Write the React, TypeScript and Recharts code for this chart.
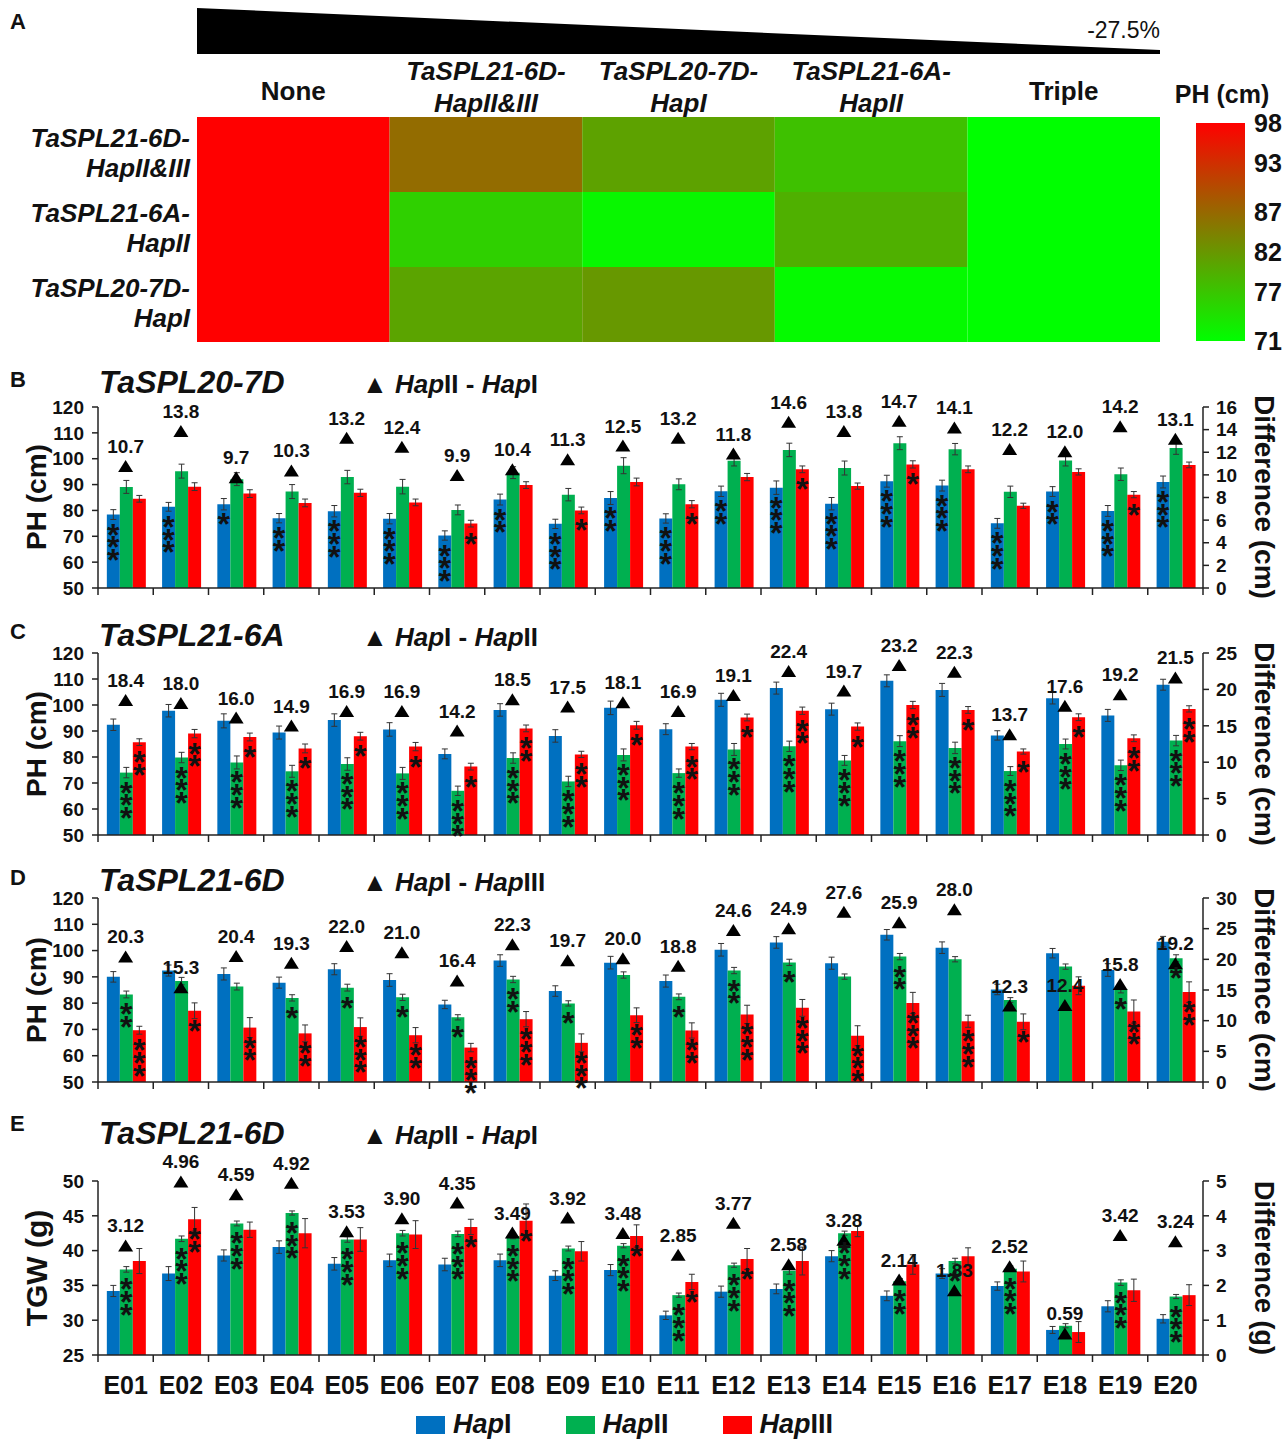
import React from "react";
import {
  BarChart,
  ComposedChart,
  Bar,
  Scatter,
  XAxis,
  YAxis,
  ErrorBar,
  LabelList,
  Cell,
  Legend,
} from "recharts";

const FONT = "'Liberation Sans', Arial, Helvetica, sans-serif";
const BLUE = "#0070C0";
const GREEN = "#00B050";
const RED = "#FF0000";
const INK = "#111";

// ---- panel A: heat map of plant height (cm) ----
const hmRows = ["TaSPL21-6D-|HapII&III", "TaSPL21-6A-|HapII", "TaSPL20-7D-|HapI"];
const hmCols = ["None", "TaSPL21-6D-|HapII&III", "TaSPL20-7D-|HapI", "TaSPL21-6A-|HapII", "Triple"];
const phRow1 = [98, 86.6, 80.8, 77.6, 71];
const phRow2 = [98, 76.0, 71.8, 79.4, 71];
const phRow3 = [98, 80.6, 81.9, 71.5, 71];
const phGrid = [phRow1, phRow2, phRow3];
const phRange = [71, 98];
const phTicks = [71, 77, 82, 87, 93, 98];

// ---- environments ----
const envs = ["E01", "E02", "E03", "E04", "E05", "E06", "E07", "E08", "E09", "E10",
  "E11", "E12", "E13", "E14", "E15", "E16", "E17", "E18", "E19", "E20"];

// ---- B: TaSPL20-7D, PH ----
const bHapI = [78.4, 81.4, 82.4, 77.0, 79.7, 76.8, 70.3, 84.2, 74.8, 84.8, 76.9, 87.4, 88.8, 82.6, 91.3, 89.6, 75.0, 87.3, 79.8, 91.0];
const bHapII = [89.1, 95.2, 92.1, 87.3, 92.9, 89.2, 80.2, 94.6, 86.1, 97.3, 90.1, 99.2, 103.4, 96.4, 106.0, 103.7, 87.2, 99.3, 94.0, 104.1];
const bHapIII = [84.5, 89.2, 86.5, 82.9, 86.8, 83.1, 74.9, 89.8, 80.0, 91.0, 82.4, 92.9, 95.9, 89.4, 97.8, 95.9, 81.8, 94.9, 86.1, 97.6];
const bErrI = [1.9, 1.7, 2.2, 1.8, 2.2, 2.0, 1.8, 2.1, 1.8, 2.5, 1.8, 2.0, 2.6, 2.4, 2.3, 2.1, 1.9, 1.9, 2.1, 2.3];
const bErrII = [2.5, 2.7, 2.5, 2.7, 2.6, 2.8, 1.9, 2.3, 2.4, 3.1, 2.1, 2.0, 2.6, 2.7, 2.5, 2.2, 2.2, 2.1, 2.4, 2.4];
const bErrIII = [1.3, 1.5, 1.5, 1.5, 1.4, 1.3, 1.3, 1.3, 1.3, 1.5, 1.4, 1.4, 1.3, 1.2, 1.4, 1.3, 1.0, 1.2, 1.2, 1.1];
const bStarI = [3, 3, 1, 2, 3, 3, 3, 2, 3, 2, 3, 2, 3, 3, 3, 3, 3, 2, 3, 3];
const bStarII = [0, 0, 0, 0, 0, 0, 0, 0, 0, 0, 0, 0, 0, 0, 0, 0, 0, 0, 0, 0];
const bStarIII = [0, 0, 0, 0, 0, 0, 1, 0, 1, 0, 1, 0, 1, 0, 1, 0, 0, 0, 1, 0];
const bDiff = [10.7, 13.8, 9.7, 10.3, 13.2, 12.4, 9.9, 10.4, 11.3, 12.5, 13.2, 11.8, 14.6, 13.8, 14.7, 14.1, 12.2, 12.0, 14.2, 13.1];

// ---- C: TaSPL21-6A, PH ----
const cHapI = [92.4, 97.8, 93.9, 89.4, 94.2, 90.6, 81.2, 98.1, 88.1, 98.9, 90.7, 102.0, 106.5, 98.4, 109.3, 105.8, 88.3, 102.6, 96.0, 107.8];
const cHapII = [74.0, 79.8, 77.9, 74.5, 77.3, 73.7, 67.0, 79.6, 70.6, 80.8, 73.8, 82.9, 84.1, 78.7, 86.1, 83.5, 74.6, 85.0, 76.8, 86.3];
const cHapIII = [85.7, 89.0, 87.7, 83.3, 88.0, 84.0, 76.3, 91.0, 81.0, 92.2, 84.0, 95.2, 97.8, 91.7, 100.0, 98.1, 82.1, 95.3, 87.2, 98.5];
const cErrI = [2.2, 2.4, 2.7, 2.5, 2.4, 2.6, 1.9, 2.4, 2.4, 2.6, 2.1, 2.5, 2.3, 2.3, 2.3, 2.5, 1.8, 2.2, 2.3, 2.1];
const cErrII = [2.0, 2.0, 2.5, 2.3, 2.4, 2.3, 1.8, 2.0, 2.0, 2.3, 1.6, 2.3, 2.0, 1.9, 2.1, 2.2, 1.7, 1.9, 2.0, 2.0];
const cErrIII = [1.3, 1.6, 1.5, 1.7, 1.5, 1.6, 1.3, 1.3, 1.2, 1.5, 1.2, 1.3, 1.4, 1.4, 1.4, 1.3, 1.0, 1.3, 1.3, 1.2];
const cStarI = [0, 0, 0, 0, 0, 0, 0, 0, 0, 0, 0, 0, 0, 0, 0, 0, 0, 0, 0, 0];
const cStarII = [3, 3, 3, 3, 3, 3, 3, 3, 3, 3, 3, 3, 3, 3, 3, 3, 3, 3, 3, 3];
const cStarIII = [2, 2, 1, 1, 1, 1, 1, 2, 2, 1, 2, 1, 2, 1, 2, 1, 1, 1, 2, 2];
const cDiff = [18.4, 18.0, 16.0, 14.9, 16.9, 16.9, 14.2, 18.5, 17.5, 18.1, 16.9, 19.1, 22.4, 19.7, 23.2, 22.3, 13.7, 17.6, 19.2, 21.5];

// ---- D: TaSPL21-6D, PH ----
const dHapI = [90.0, 92.4, 91.1, 87.8, 92.9, 88.8, 79.5, 96.2, 84.6, 95.4, 88.4, 100.3, 103.1, 95.2, 106.0, 101.1, 85.2, 99.0, 92.6, 103.4];
const dHapII = [83.3, 88.4, 86.3, 82.0, 85.9, 82.2, 74.6, 89.0, 79.9, 90.7, 82.4, 92.4, 95.5, 90.1, 97.7, 96.7, 81.2, 93.9, 85.4, 97.1];
const dHapIII = [69.7, 77.1, 70.7, 68.5, 70.9, 67.8, 63.1, 73.9, 64.9, 75.4, 69.6, 75.7, 78.2, 67.6, 80.1, 73.1, 72.9, 86.6, 76.8, 84.2];
const dErrI = [2.0, 2.1, 2.3, 2.1, 2.1, 2.4, 1.6, 2.2, 2.0, 2.4, 2.3, 2.4, 2.2, 2.3, 2.0, 2.2, 2.0, 1.8, 2.4, 2.0];
const dErrII = [1.3, 1.4, 1.3, 1.2, 1.3, 1.2, 1.0, 1.2, 1.0, 1.2, 1.1, 1.2, 1.2, 1.0, 1.2, 1.0, 0.9, 1.0, 1.5, 1.3];
const dErrIII = [1.5, 3.0, 3.8, 3.2, 3.5, 2.9, 1.6, 2.9, 3.4, 2.8, 2.9, 3.5, 3.2, 3.8, 4.0, 2.3, 3.0, 3.4, 4.4, 3.9];
const dStarI = [0, 0, 0, 0, 0, 0, 0, 0, 0, 0, 0, 0, 0, 0, 0, 0, 0, 0, 0, 0];
const dStarII = [2, 0, 0, 1, 1, 1, 1, 2, 1, 0, 1, 2, 1, 0, 2, 0, 0, 0, 1, 1];
const dStarIII = [3, 1, 2, 2, 3, 2, 3, 3, 3, 2, 2, 3, 3, 3, 3, 3, 1, 0, 2, 2];
const dDiff = [20.3, 15.3, 20.4, 19.3, 22.0, 21.0, 16.4, 22.3, 19.7, 20.0, 18.8, 24.6, 24.9, 27.6, 25.9, 28.0, 12.3, 12.4, 15.8, 19.2];

// ---- E: TaSPL21-6D, TGW ----
const eHapI = [34.2, 36.7, 39.3, 40.5, 38.1, 38.6, 38.0, 38.6, 36.4, 37.2, 30.7, 34.1, 34.5, 39.2, 33.5, 36.7, 34.9, 28.6, 32.0, 30.2];
const eHapII = [37.3, 41.7, 43.9, 45.4, 41.6, 42.5, 42.4, 42.1, 40.3, 40.7, 33.6, 37.9, 37.1, 42.5, 35.6, 38.5, 37.4, 29.2, 35.4, 33.4];
const eHapIII = [38.5, 44.5, 43.0, 42.5, 41.6, 42.3, 43.4, 44.3, 39.9, 42.1, 35.5, 38.8, 38.5, 42.8, 38.0, 39.2, 37.0, 28.3, 34.3, 33.6];
const eErrI = [0.8, 1.0, 0.8, 0.9, 0.9, 0.9, 0.9, 0.9, 0.7, 0.8, 0.6, 0.8, 0.7, 0.8, 0.7, 0.7, 0.6, 0.5, 0.8, 0.6];
const eErrII = [0.4, 0.4, 0.35, 0.3, 0.4, 0.4, 0.4, 0.4, 0.35, 0.3, 0.3, 0.3, 0.5, 0.3, 0.4, 0.4, 0.4, 0.3, 0.4, 0.3];
const eErrIII = [1.8, 1.7, 1.1, 2.1, 1.7, 2.0, 1.1, 2.4, 1.4, 1.6, 1.1, 1.5, 2.0, 0.8, 1.4, 1.2, 1.5, 1.5, 1.6, 1.5];
const eStarI = [0, 0, 0, 0, 0, 0, 0, 0, 0, 0, 0, 0, 0, 0, 0, 0, 0, 0, 0, 0];
const eStarII = [3, 3, 3, 3, 3, 3, 3, 3, 3, 3, 3, 3, 3, 3, 2, 1, 3, 0, 3, 3];
const eStarIII = [0, 2, 0, 0, 0, 0, 1, 1, 0, 1, 1, 1, 0, 0, 0, 0, 0, 0, 0, 0];
const eDiff = [3.12, 4.96, 4.59, 4.92, 3.53, 3.90, 4.35, 3.49, 3.92, 3.48, 2.85, 3.77, 2.58, 3.28, 2.14, 1.83, 2.52, 0.59, 3.42, 3.24];

const phAxisTicks = [50, 60, 70, 80, 90, 100, 110, 120];
const tgwAxisTicks = [25, 30, 35, 40, 45, 50];

function buildRows(hI, hII, hIII, eI, eII, eIII, sI, sII, sIII, diff) {
  return envs.map((env, k) => ({
    env,
    i: hI[k], ii: hII[k], iii: hIII[k],
    ei: eI[k], eii: eII[k], eiii: eIII[k],
    si: sI[k], sii: sII[k], siii: sIII[k],
    diff: diff[k],
  }));
}

const phColor = (v: number) => {
  const t = (v - phRange[0]) / (phRange[1] - phRange[0]);
  return `rgb(${Math.round(255 * t)},${Math.round(255 * (1 - t))},0)`;
};

const heatData = hmRows.map((row) => {
  const r: any = { row };
  hmCols.forEach((_, c) => (r[`c${c}`] = 1));
  return r;
});

const RowTick = (props: any) => {
  const { x, y, payload } = props;
  const [l1, l2] = String(payload.value).split("|");
  return (
    <text x={x} y={y} textAnchor="end" fontFamily={FONT} fontSize={26} fontWeight="bold" fontStyle="italic" fill={INK}>
      <tspan x={x} dy={-8}>{l1}</tspan>
      <tspan x={x} dy={30}>{l2}</tspan>
    </text>
  );
};

const ColTick = (props: any) => {
  const { x, y, payload } = props;
  const label = hmCols[Math.floor(payload.value)] || "";
  const parts = label.split("|");
  if (parts.length === 1) {
    return (
      <text x={x} y={y - 17} textAnchor="middle" fontFamily={FONT} fontSize={26} fontWeight="bold" fill={INK}>
        {parts[0]}
      </text>
    );
  }
  return (
    <text x={x} textAnchor="middle" fontFamily={FONT} fontSize={26} fontWeight="bold" fontStyle="italic" fill={INK}>
      <tspan x={x} y={y - 37}>{parts[0]}</tspan>
      <tspan x={x} y={y - 5}>{parts[1]}</tspan>
    </text>
  );
};

const BoundaryTick = (props: any) => {
  const { x, y, payload, index, showLabel } = props;
  const half = payload && payload.offset ? payload.offset : 27.6;
  const last = index === envs.length - 1;
  return (
    <g>
      <line x1={x - half} x2={x - half} y1={y} y2={y + 7} stroke="#222" strokeWidth={1.5} />
      {last && <line x1={x + half} x2={x + half} y1={y} y2={y + 7} stroke="#222" strokeWidth={1.5} />}
      {showLabel && (
        <text x={x} y={y + 39} textAnchor="middle" fontFamily={FONT} fontSize={25} fontWeight="bold" fill={INK}>
          {payload.value}
        </text>
      )}
    </g>
  );
};

const renderStars = (props: any) => {
  const vb = props.viewBox || props;
  const x = vb.x ?? props.x;
  const y = vb.y ?? props.y;
  const w = vb.width ?? props.width;
  const n = Number(props.value) || 0;
  if (!n || x == null) return null;
  const out = [];
  for (let k = 0; k < n; k++) {
    out.push(
      <text key={k} x={x + w / 2} y={y + 31 + 12.7 * k} textAnchor="middle" fontFamily={FONT} fontSize={32} fontWeight="bold" fill={INK}>
        *
      </text>
    );
  }
  return <g>{out}</g>;
};

const makeTriangle = (decimals: number) => (props: any) => {
  const { cx, cy, payload } = props;
  if (cx == null || cy == null) return <g />;
  return (
    <g>
      <polygon points={`${cx},${cy - 7} ${cx - 7.5},${cy + 5} ${cx + 7.5},${cy + 5}`} fill="#000" />
      <text x={cx} y={cy - 14} textAnchor="middle" fontFamily={FONT} fontSize={19} fontWeight="bold" fill={INK}>
        {Number(payload.diff).toFixed(decimals)}
      </text>
    </g>
  );
};

const renderLegend = (props: any) => {
  const items = (props.payload || []).filter((e: any) => e.type !== "none");
  return (
    <div style={{ display: "flex", alignItems: "center", fontFamily: FONT, whiteSpace: "nowrap" }}>
      {items.map((e: any, k: number) => (
        <div key={k} style={{ display: "flex", alignItems: "center", marginRight: k < items.length - 1 ? 54 : 0 }}>
          <div style={{ width: 29, height: 18, background: e.color, marginRight: 8 }} />
          <span style={{ fontSize: 27, fontWeight: "bold", color: INK }}>
            <i>Hap</i>
            {String(e.value).slice(3)}
          </span>
        </div>
      ))}
    </div>
  );
};

const axisTick = { fontFamily: FONT, fontSize: 19, fontWeight: "bold", fill: INK };

function Panel(p: any) {
  return (
    <div style={{ position: "absolute", left: 0, top: p.top }}>
      <ComposedChart
        width={1288}
        height={p.height}
        data={p.data}
        margin={{ top: p.mTop, right: 25, bottom: p.mBottom, left: 38 }}
        barCategoryGap="16%"
        barGap={0}
      >
        <XAxis
          dataKey="env"
          interval={0}
          tickSize={0}
          tickMargin={0}
          height={p.xLabels ? 45 : 10}
          tickLine={false}
          axisLine={{ stroke: "#222", strokeWidth: 1.5 }}
          tick={(t: any) => <BoundaryTick {...t} showLabel={p.xLabels} />}
        />
        <YAxis
          yAxisId="left"
          domain={p.left}
          ticks={p.leftTicks}
          interval={0}
          width={60}
          tickSize={6}
          tickMargin={8}
          stroke="#222"
          strokeWidth={1.5}
          tick={axisTick}
        />
        <YAxis
          yAxisId="right"
          orientation="right"
          domain={p.right}
          ticks={p.rightTicks}
          interval={0}
          width={60}
          tickSize={6}
          tickMargin={7}
          stroke="#222"
          strokeWidth={1.5}
          tick={axisTick}
        />
        <Bar yAxisId="left" dataKey="i" name="HapI" fill={BLUE} isAnimationActive={false}>
          <ErrorBar dataKey="ei" width={3} stroke="#333" strokeWidth={1} direction="y" />
          <LabelList dataKey="si" content={renderStars} />
        </Bar>
        <Bar yAxisId="left" dataKey="ii" name="HapII" fill={GREEN} isAnimationActive={false}>
          <ErrorBar dataKey="eii" width={3} stroke="#333" strokeWidth={1} direction="y" />
          <LabelList dataKey="sii" content={renderStars} />
        </Bar>
        <Bar yAxisId="left" dataKey="iii" name="HapIII" fill={RED} isAnimationActive={false}>
          <ErrorBar dataKey="eiii" width={3} stroke="#333" strokeWidth={1} direction="y" />
          <LabelList dataKey="siii" content={renderStars} />
        </Bar>
        <Scatter
          yAxisId="right"
          dataKey="diff"
          legendType="none"
          shape={makeTriangle(p.decimals)}
          isAnimationActive={false}
        />
        {p.legend && (
          <Legend
            layout="horizontal"
            verticalAlign="middle"
            align="center"
            wrapperStyle={{ left: 416, top: 309, width: "auto" }}
            content={renderLegend}
          />
        )}
      </ComposedChart>
    </div>
  );
}

const SubTitle = ({ x, y, a, b }: any) => (
  <text x={x} y={y} fontFamily={FONT} fontSize={26} fontWeight="bold" fill={INK}>
    ▲ <tspan fontStyle="italic">Hap</tspan>
    {a} - <tspan fontStyle="italic">Hap</tspan>
    {b}
  </text>
);

const panelText = [
  { letter: "B", ly: 387, ty: 393, gene: "TaSPL20-7D", a: "II", b: "I", axis: "PH (cm)", axisSize: 28, diff: "Difference (cm)", diffSize: 28, cy: 497 },
  { letter: "C", ly: 639, ty: 646, gene: "TaSPL21-6A", a: "I", b: "II", axis: "PH (cm)", axisSize: 28, diff: "Difference (cm)", diffSize: 28, cy: 744 },
  { letter: "D", ly: 885, ty: 891, gene: "TaSPL21-6D", a: "I", b: "III", axis: "PH (cm)", axisSize: 28, diff: "Difference (cm)", diffSize: 28, cy: 990 },
  { letter: "E", ly: 1131, ty: 1144, gene: "TaSPL21-6D", a: "II", b: "I", axis: "TGW (g)", axisSize: 30, diff: "Difference (g)", diffSize: 27, cy: 1268 },
];

function Overlay() {
  return (
    <svg width={1288} height={1440} style={{ position: "absolute", left: 0, top: 0, pointerEvents: "none" }}>
      <text x={10} y={29} fontFamily={FONT} fontSize={22} fontWeight="bold" fill={INK}>A</text>
      <polygon points="197,8 1160,50 1160,54 197,54" fill="#000" />
      <text x={1160} y={38} textAnchor="end" fontFamily={FONT} fontSize={23} fill={INK}>-27.5%</text>
      <text x={1222} y={103} textAnchor="middle" fontFamily={FONT} fontSize={25} fontWeight="bold" fill={INK}>PH (cm)</text>
      {panelText.map((t) => (
        <g key={t.letter}>
          <text x={10} y={t.ly} fontFamily={FONT} fontSize={22} fontWeight="bold" fill={INK}>{t.letter}</text>
          <text x={99} y={t.ty} fontFamily={FONT} fontSize={32} fontWeight="bold" fontStyle="italic" fill={INK}>{t.gene}</text>
          <SubTitle x={362} y={t.ty} a={t.a} b={t.b} />
          <text
            transform={`translate(36,${t.cy}) rotate(-90)`}
            textAnchor="middle"
            dominantBaseline="central"
            fontFamily={FONT}
            fontSize={t.axisSize}
            fontWeight="bold"
            fill={INK}
          >
            {t.axis}
          </text>
          <text
            transform={`translate(1264,${t.cy}) rotate(90)`}
            textAnchor="middle"
            dominantBaseline="central"
            fontFamily={FONT}
            fontSize={t.diffSize}
            fontWeight="bold"
            fill={INK}
          >
            {t.diff}
          </text>
        </g>
      ))}
    </svg>
  );
}

export default function App() {
  const bRows = buildRows(bHapI, bHapII, bHapIII, bErrI, bErrII, bErrIII, bStarI, bStarII, bStarIII, bDiff);
  const cRows = buildRows(cHapI, cHapII, cHapIII, cErrI, cErrII, cErrIII, cStarI, cStarII, cStarIII, cDiff);
  const dRows = buildRows(dHapI, dHapII, dHapIII, dErrI, dErrII, dErrIII, dStarI, dStarII, dStarIII, dDiff);
  const eRows = buildRows(eHapI, eHapII, eHapIII, eErrI, eErrII, eErrIII, eStarI, eStarII, eStarIII, eDiff);

  return (
    <div style={{ position: "absolute", left: 0, top: 0, width: 1288, height: 1440, background: "#fff", fontFamily: FONT }}>
      {/* A: heat map */}
      <div style={{ position: "absolute", left: 0, top: 40 }}>
        <BarChart
          width={1170}
          height={305}
          layout="vertical"
          data={heatData}
          margin={{ top: 0, right: 10, bottom: 3, left: 0 }}
          barCategoryGap={0}
          barGap={0}
        >
          <XAxis
            type="number"
            orientation="top"
            domain={[0, hmCols.length]}
            ticks={hmCols.map((_, c) => c + 0.5)}
            interval={0}
            height={77}
            axisLine={false}
            tickLine={false}
            tickSize={0}
            tickMargin={0}
            tick={ColTick}
          />
          <YAxis
            type="category"
            dataKey="row"
            width={197}
            axisLine={false}
            tickLine={false}
            tickSize={0}
            tickMargin={7}
            tick={RowTick}
          />
          {hmCols.map((_, c) => (
            <Bar key={c} dataKey={`c${c}`} stackId="hm" isAnimationActive={false}>
              {heatData.map((_, r) => (
                <Cell key={r} fill={phColor(phGrid[r][c])} />
              ))}
            </Bar>
          ))}
        </BarChart>
      </div>

      {/* A: colour bar */}
      <div style={{ position: "absolute", left: 1190, top: 110 }}>
        <BarChart
          width={98}
          height={245}
          data={[{ name: "PH", range: phRange }]}
          margin={{ top: 13, right: 0, bottom: 14, left: 6 }}
          barCategoryGap={0}
        >
          <defs>
            <linearGradient id="phGrad" x1="0" y1="0" x2="0" y2="1">
              <stop offset="0%" stopColor={phColor(phRange[1])} />
              <stop offset="100%" stopColor={phColor(phRange[0])} />
            </linearGradient>
          </defs>
          <XAxis dataKey="name" hide />
          <YAxis
            orientation="right"
            domain={phRange}
            ticks={phTicks}
            interval={0}
            width={43}
            axisLine={false}
            tickLine={false}
            tickMargin={3}
            tick={{ fontFamily: FONT, fontSize: 25, fontWeight: "bold", fill: INK }}
          />
          <Bar dataKey="range" fill="url(#phGrad)" isAnimationActive={false} />
        </BarChart>
      </div>

      <Panel top={360} height={250} mTop={47} mBottom={12} data={bRows} left={[50, 120]} leftTicks={phAxisTicks}
        right={[0, 16]} rightTicks={[0, 2, 4, 6, 8, 10, 12, 14, 16]} decimals={1} />
      <Panel top={605} height={255} mTop={48} mBottom={15} data={cRows} left={[50, 120]} leftTicks={phAxisTicks}
        right={[0, 25]} rightTicks={[0, 5, 10, 15, 20, 25]} decimals={1} />
      <Panel top={850} height={265} mTop={48} mBottom={23} data={dRows} left={[50, 120]} leftTicks={phAxisTicks}
        right={[0, 30]} rightTicks={[0, 5, 10, 15, 20, 25, 30]} decimals={1} />
      <Panel top={1100} height={340} mTop={81} mBottom={40} data={eRows} left={[25, 50]} leftTicks={tgwAxisTicks}
        right={[0, 5]} rightTicks={[0, 1, 2, 3, 4, 5]} decimals={2} xLabels legend />

      <Overlay />
    </div>
  );
}
